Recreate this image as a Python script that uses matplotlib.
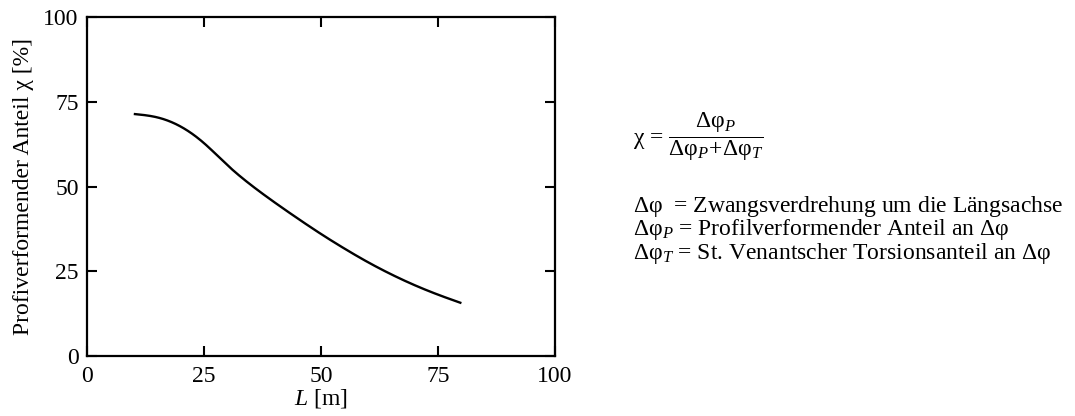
import matplotlib
matplotlib.use("Agg")
import matplotlib.pyplot as plt
import numpy as np

plt.rcParams['font.family'] = ['Liberation Serif', 'DejaVu Serif']
plt.rcParams['mathtext.fontset'] = 'custom'
plt.rcParams['mathtext.rm'] = 'Liberation Serif'
plt.rcParams['mathtext.it'] = 'Liberation Serif:italic'
plt.rcParams['mathtext.bf'] = 'Liberation Serif:bold'

# Span length L [m] and profile-deforming share chi [%]
span_m = [10, 15, 20, 25, 30, 35, 40, 45, 50, 55, 60, 65, 70, 75, 80]
share_pct = [71.4, 70.4, 67.7, 62.8, 56.3, 50.5, 45.4, 40.6, 36.0, 31.7, 27.7, 24.1, 20.9, 18.1, 15.6]
x_ticks = [0, 25, 50, 75, 100]
y_ticks = [0, 25, 50, 75, 100]

FS = 17

fig = plt.figure(figsize=(10.75, 4.16), dpi=100)
ax = fig.add_axes([0.0809, 0.1442, 0.4354, 0.8149])


def natural_spline(x, y, xs):
    """Natural cubic spline through (x, y), evaluated at xs."""
    x = np.asarray(x, float); y = np.asarray(y, float)
    n = len(x); h = np.diff(x)
    A = np.zeros((n, n)); r = np.zeros(n)
    A[0, 0] = A[-1, -1] = 1.0
    for i in range(1, n - 1):
        A[i, i-1] = h[i-1]; A[i, i] = 2 * (h[i-1] + h[i]); A[i, i+1] = h[i]
        r[i] = 6 * ((y[i+1] - y[i]) / h[i] - (y[i] - y[i-1]) / h[i-1])
    M = np.linalg.solve(A, r)
    k = np.clip(np.searchsorted(x, xs) - 1, 0, n - 2)
    t0 = xs - x[k]; t1 = x[k+1] - xs; hk = h[k]
    return (M[k] * t1**3 + M[k+1] * t0**3) / (6 * hk) + \
           (y[k] / hk - M[k] * hk / 6) * t1 + (y[k+1] / hk - M[k+1] * hk / 6) * t0


xs = np.linspace(span_m[0], span_m[-1], 400)
ax.plot(xs, natural_spline(span_m, share_pct, xs), color='black', lw=1.7,
        solid_capstyle='butt')

ax.set_xlim(0, 100)
ax.set_ylim(0, 100)
ax.set_xticks(x_ticks)
ax.set_yticks(y_ticks)
ax.tick_params(direction='in', length=7, width=1.5, top=True, right=True,
               labelsize=FS, colors='black')
ax.tick_params(axis='x', pad=7)
ax.tick_params(axis='y', pad=6)
for s in ax.spines.values():
    s.set_linewidth(1.6)
ax.set_xlabel(r'$\mathit{L}$ [m]', fontsize=FS, labelpad=0)
ax.set_ylabel('Profiverformender Anteil χ [%]', fontsize=FS, labelpad=7)

# definitions on the right
fig.text(0.589, 0.671,
         r'$\mathrm{\chi}$ = $\dfrac{\mathrm{\Delta\varphi}_{\mathit{P}}}{\mathrm{\Delta\varphi}_{\mathit{P}}\!+\!\mathrm{\Delta\varphi}_{\mathit{T}}}$',
         fontsize=FS, va='center', ha='left')
lines = [
    r'$\mathrm{\Delta\varphi}$  = Zwangsverdrehung um die Längsachse',
    r'$\mathrm{\Delta\varphi}_{\mathit{P}}$ = Profilverformender Anteil an $\mathrm{\Delta\varphi}$',
    r'$\mathrm{\Delta\varphi}_{\mathit{T}}$ = St. Venantscher Torsionsanteil an $\mathrm{\Delta\varphi}$',
]
for i, t in enumerate(lines):
    fig.text(0.589, 0.504 - i * 0.0565, t, fontsize=FS, va='center', ha='left')

fig.savefig('out.png', dpi=100)
